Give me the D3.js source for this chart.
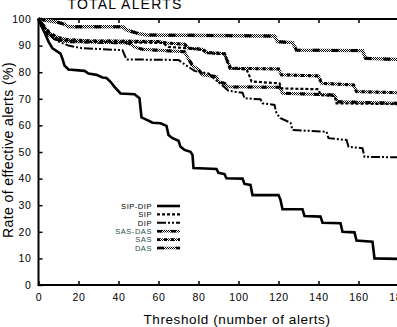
<!DOCTYPE html>
<html><head><meta charset="utf-8">
<script src="https://cdn.jsdelivr.net/npm/d3@7"></script>
<style>
html,body{margin:0;padding:0;background:#fff;overflow:hidden}
svg{display:block;font-family:"Liberation Sans",Arial,sans-serif}
</style></head><body>
<svg id="chart" width="397" height="327"></svg>
<script>
const title = "TOTAL ALERTS";
const xLabel = "Threshold (number of alerts)";
const yLabel = "Rate of effective alerts (%)";
const xTicks = [0,20,40,60,80,100,120,140,160,180];
const yTicks = [0,10,20,30,40,50,60,70,80,90,100];
const seriesNames = ["SIP-DIP","SIP","DIP","SAS-DAS","SAS","DAS"];

const sipDip = [[0,100],[1,98],[3,95],[5,91.5],[7,89],[11,87],[12,85],[13,82.5],[15,81],[23,80.5],[25,79.5],[29,79],[32,78],[34,77.8],[36,76.4],[38,74.5],[41,72],[48,71.7],[50.5,70.2],[51.5,63],[55,61.8],[57,61],[61,60.8],[64,59.8],[65,56.4],[67,55.2],[70,54.2],[71,52],[73,50.8],[76,50.1],[77,48.9],[77.5,44],[89,43.6],[90,42.2],[93,41.7],[94,40.1],[102,40],[103,38],[106,37.6],[107,33.8],[120,33.8],[121,32],[122,28.5],[132,28.5],[133,25.9],[141,25.7],[142,23.4],[151,23.2],[152,20],[158,19.8],[159,16.7],[167,16.3],[168,10],[180,9.8]];
const sip = [[0,100],[2,97.5],[5,95],[8,93],[12,92],[20,91.5],[45,91.2],[62,91],[65,89.5],[75,89],[82,88.3],[84,87.2],[93,86.8],[94,85],[95.5,81.5],[104,81],[105,79.5],[106.5,76.5],[120.5,75.8],[121.5,73.9],[140,73.6],[141,71.4],[148,71.1],[149,68.3],[180,68]];
const dip = [[0,100],[2,98],[4,96],[7,93],[10,91.5],[15,90],[22,89],[42,88.3],[44,84.8],[70,84.6],[72,83.5],[75,82],[78,80.5],[85,79.5],[88,77.5],[92,75],[95,73],[102,72.3],[103,70.2],[111,69.8],[112,68.3],[118,67.7],[119,64.5],[121,62.7],[126,61],[127,58.3],[144,57.6],[145,55.2],[154,54.5],[155,52],[162,51.4],[163,48.2],[180,48]];
const sasDas = [[0,100],[2,97],[5,94],[8,92.5],[14,91.5],[45,91],[48,89.5],[52,88.6],[73,87.7],[75,85],[77,82.5],[80,81],[82,79],[89,78.3],[90,76.4],[93,75.8],[95,74.5],[120.5,74.3],[122,72.1],[148,71.4],[149.5,68.9],[180,68.3]];
const sas = [[0,100],[3,97],[6,94.5],[10,93],[15,92.2],[25,91.8],[60,91.5],[64,91],[73,90.5],[75,89],[82,88.6],[84,87.4],[93,87],[94,85],[95.5,82.5],[96,81.5],[120,81.2],[121.5,79],[140,78.6],[141.5,75.8],[157.5,75.2],[159,72.7],[180,72.3]];
const das = [[0,100],[10,98.7],[13,98],[15,97.1],[42,97.1],[44,95.9],[50,94.5],[54,94],[118,93.6],[119.5,91.5],[127,91.1],[129,88.3],[162,88.1],[163.5,85.2],[180,84.8]];

const svg = d3.select("#chart");
const x = d3.scaleLinear().domain([0,180]).range([38.5,398.5]);
const y = d3.scaleLinear().domain([0,100]).range([285,19]);

const defs = svg.append("defs");
const pat = defs.append("pattern").attr("id","dither").attr("patternUnits","userSpaceOnUse").attr("width",2).attr("height",2);
pat.append("rect").attr("width",2).attr("height",2).attr("fill","#fff");
pat.append("rect").attr("width",1).attr("height",1).attr("fill","#000");
pat.append("rect").attr("x",1).attr("y",1).attr("width",1).attr("height",1).attr("fill","#000");

const styles = {
  "SIP-DIP": [{stroke:"#000", w:2.6, dash:null}],
  "SIP": [{stroke:"#000", w:2.2, dash:"3,2"}],
  "DIP": [{stroke:"#000", w:2, dash:"9,2,2,2,2,2"}],
  "SAS-DAS": [{stroke:"url(#dither)", w:3, dash:null},{stroke:"#000", w:3, dash:"5,9"}],
  "SAS": [{stroke:"url(#dither)", w:3, dash:null},{stroke:"#000", w:3, dash:"3,4"}],
  "DAS": [{stroke:"url(#dither)", w:3.4, dash:null},{stroke:"#000", w:3, dash:"7,12"}]
};
const dataBy = {"SIP-DIP":sipDip,"SIP":sip,"DIP":dip,"SAS-DAS":sasDas,"SAS":sas,"DAS":das};

// frame
svg.append("rect").attr("x",x(0)).attr("y",y(100)).attr("width",x(180)-x(0)).attr("height",y(0)-y(100))
  .attr("fill","none").attr("stroke","#000").attr("stroke-width",2);

// axes
const yAxis = d3.axisLeft(y).tickValues(yTicks).tickSizeInner(-4).tickSizeOuter(0).tickPadding(7);
const gy = svg.append("g").attr("transform",`translate(${x(0)},0)`).call(yAxis);
const xAxis = d3.axisBottom(x).tickValues(xTicks).tickSizeInner(-4).tickSizeOuter(0).tickPadding(9);
const gx = svg.append("g").attr("transform",`translate(0,${y(0)})`).call(xAxis);
const xTop = d3.axisTop(x).tickValues(xTicks).tickSizeInner(-4).tickSizeOuter(0).tickFormat("");
const gt = svg.append("g").attr("transform",`translate(0,${y(100)})`).call(xTop);
[gy,gx,gt].forEach(g=>{
  g.select(".domain").remove();
  g.selectAll(".tick line").attr("stroke","#000").attr("stroke-width",1.5);
  g.selectAll(".tick text").attr("fill","#000").attr("font-size","10.5px").attr("letter-spacing","0.6px")
    .attr("font-family","'Liberation Sans',Arial,sans-serif");
});

// lines
const line = d3.line().x(d=>x(d[0])).y(d=>y(d[1]));
const order = ["DAS","SAS-DAS","SAS","DIP","SIP","SIP-DIP"];
order.forEach(n=>{
  styles[n].forEach(s=>{
    svg.append("path").datum(dataBy[n]).attr("d",line).attr("fill","none")
      .attr("stroke",s.stroke).attr("stroke-width",s.w).attr("stroke-dasharray",s.dash)
      .attr("stroke-linejoin","miter");
  });
});

// legend
const legY = d3.scalePoint().domain(seriesNames).range([206,248]);
const legendColors = {"SIP-DIP":"#000","SIP":"#000","DIP":"#000","SAS-DAS":"#2f4f4f","SAS":"#2f4f4f","DAS":"#2f4f4f"};
seriesNames.forEach(n=>{
  const yy = legY(n);
  svg.append("text").attr("x",152).attr("y",yy+2.8).attr("text-anchor","end")
    .attr("font-size","7.6px").attr("letter-spacing","0.5px").attr("fill",legendColors[n]).text(n);
  styles[n].forEach(s=>{
    svg.append("line").attr("x1",157).attr("x2",180).attr("y1",yy).attr("y2",yy)
      .attr("stroke",s.stroke).attr("stroke-width",Math.min(s.w,2.6)).attr("stroke-dasharray",s.dash);
  });
});

// titles
svg.append("text").attr("x",125).attr("y",8.5).attr("text-anchor","middle")
  .attr("font-size","14px").attr("letter-spacing","1.2px").text(title);
svg.append("text").attr("x",237).attr("y",324).attr("text-anchor","middle")
  .attr("font-size","13.5px").attr("letter-spacing","0.6px").text(xLabel);
svg.append("text").attr("transform","translate(13,150) rotate(-90)").attr("text-anchor","middle")
  .attr("font-size","14px").attr("letter-spacing","0.4px").text(yLabel);
</script>
</body></html>
